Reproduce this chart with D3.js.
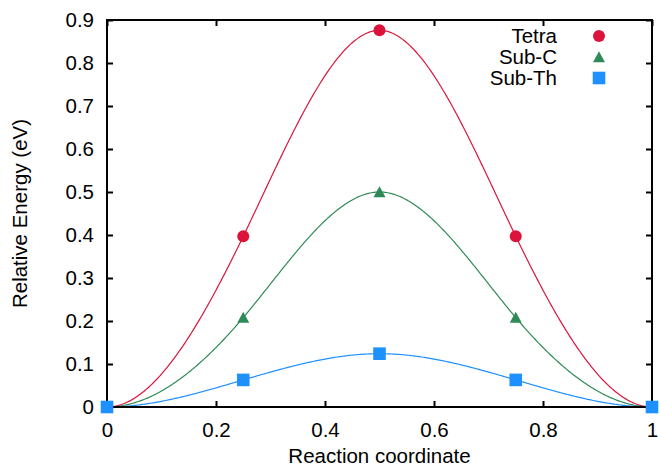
<!DOCTYPE html>
<html>
<head>
<meta charset="utf-8">
<script src="https://cdn.jsdelivr.net/npm/d3@7"></script>
<style>
  html, body { margin: 0; padding: 0; background: #fff; }
  svg { display: block; }
  text { font-family: "Liberation Sans", Arial, Helvetica, sans-serif; fill: #000; }
</style>
</head>
<body>
<svg id="chart" width="659" height="468"></svg>
<script>
// ---- data ----
const reactionCoord = [0, 0.25, 0.5, 0.75, 1];
const tetraEnergy = [0, 0.397, 0.876, 0.397, 0];
const subCEnergy = [0, 0.208, 0.500, 0.208, 0];
const subThEnergy = [0, 0.063, 0.124, 0.063, 0];
const seriesNames = ["Tetra", "Sub-C", "Sub-Th"];
const seriesColors = ["#dc143c", "#2e8b57", "#1e90ff"];
const seriesShapes = ["circle", "triangle", "square"];
const xTickValues = [0, 0.2, 0.4, 0.6, 0.8, 1];
const xTickLabels = ["0", "0.2", "0.4", "0.6", "0.8", "1"];
const yTickValues = [0, 0.1, 0.2, 0.3, 0.4, 0.5, 0.6, 0.7, 0.8, 0.9];
const yTickLabels = ["0", "0.1", "0.2", "0.3", "0.4", "0.5", "0.6", "0.7", "0.8", "0.9"];
const xTitle = "Reaction coordinate";
const yTitle = "Relative Energy (eV)";

const seriesValues = [tetraEnergy, subCEnergy, subThEnergy];

// ---- layout ----
const W = 659, H = 468;
const L = 107, R = 652, T = 20, B = 407;
const FONT = 20.5;

const svg = d3.select("#chart");
const x = d3.scaleLinear().domain([0, 1]).range([L, R]);
const y = d3.scaleLinear().domain([0, 0.9]).range([B, T]);

// clamped cubic spline (zero end slopes) through the data
function clampedSpline(xs, ys) {
  const n = xs.length;
  const h = [];
  for (let i = 0; i < n - 1; i++) h.push(xs[i + 1] - xs[i]);
  const m = new Array(n).fill(0);
  const k = n - 2;
  if (k > 0) {
    const a = [], b = [], c = [], d = [];
    for (let i = 1; i <= k; i++) {
      a.push(h[i]);
      b.push(2 * (h[i - 1] + h[i]));
      c.push(h[i - 1]);
      d.push(3 * (h[i] * (ys[i] - ys[i - 1]) / h[i - 1] + h[i - 1] * (ys[i + 1] - ys[i]) / h[i]));
    }
    for (let i = 1; i < k; i++) {
      const w = a[i] / b[i - 1];
      b[i] -= w * c[i - 1];
      d[i] -= w * d[i - 1];
    }
    const sol = new Array(k);
    sol[k - 1] = d[k - 1] / b[k - 1];
    for (let i = k - 2; i >= 0; i--) sol[i] = (d[i] - c[i] * sol[i + 1]) / b[i];
    for (let i = 1; i <= k; i++) m[i] = sol[i - 1];
  }
  return function (xv) {
    let i = 0;
    while (i < n - 2 && xv > xs[i + 1]) i++;
    const hh = h[i];
    const t = (xv - xs[i]) / hh;
    const t2 = t * t, t3 = t2 * t;
    return (2 * t3 - 3 * t2 + 1) * ys[i] + (t3 - 2 * t2 + t) * hh * m[i]
         + (-2 * t3 + 3 * t2) * ys[i + 1] + (t3 - t2) * hh * m[i + 1];
  };
}

// ---- curves ----
const line = d3.line().x(d => x(d[0])).y(d => y(d[1]));
const samples = d3.range(0, 401).map(i => i / 400);
seriesValues.forEach((vals, si) => {
  const f = clampedSpline(reactionCoord, vals);
  svg.append("path")
    .attr("d", line(samples.map(s => [s, f(s)])))
    .attr("fill", "none")
    .attr("stroke", seriesColors[si])
    .attr("stroke-width", 1.2);
});

// ---- axes / border ----
const tickLen = 6;
const axisG = svg.append("g");
const xAxisB = d3.axisBottom(x).tickValues(xTickValues).tickFormat((d, i) => xTickLabels[i]).tickSize(-tickLen).tickPadding(15);
const xAxisT = d3.axisTop(x).tickValues(xTickValues).tickFormat("").tickSize(-tickLen);
const yAxisL = d3.axisLeft(y).tickValues(yTickValues).tickFormat((d, i) => yTickLabels[i]).tickSize(-tickLen).tickPadding(13);
const yAxisR = d3.axisRight(y).tickValues(yTickValues).tickFormat("").tickSize(-tickLen);

function styleAxis(g) {
  g.select(".domain").remove();
  g.selectAll(".tick line").attr("stroke", "#000").attr("stroke-width", 2);
  g.selectAll(".tick text").attr("font-size", FONT).attr("fill", "#000")
    .attr("font-family", "Liberation Sans, Arial, sans-serif");
}
axisG.append("g").attr("transform", `translate(0,${B})`).call(xAxisB).call(styleAxis)
  .selectAll(".tick text").attr("dy", "0.71em");
axisG.append("g").attr("transform", `translate(0,${T})`).call(xAxisT).call(styleAxis);
axisG.append("g").attr("transform", `translate(${L},0)`).call(yAxisL).call(styleAxis);
axisG.append("g").attr("transform", `translate(${R},0)`).call(yAxisR).call(styleAxis);

svg.append("rect")
  .attr("x", L).attr("y", T).attr("width", R - L).attr("height", B - T)
  .attr("fill", "none").attr("stroke", "#000").attr("stroke-width", 2);

// ---- markers ----
const MS = 12;
function markerPath(shape) {
  if (shape === "circle") {
    const r = MS / 2;
    return `M${-r},0A${r},${r} 0 1,0 ${r},0A${r},${r} 0 1,0 ${-r},0Z`;
  }
  if (shape === "triangle") {
    const w = MS / 2, hgt = 10.5;
    return `M0,${-hgt / 2 - 0.5}L${w},${hgt / 2}L${-w},${hgt / 2}Z`;
  }
  const s = MS / 2 + 0.3;
  return `M${-s},${-s}H${s}V${s}H${-s}Z`;
}
seriesValues.forEach((vals, si) => {
  svg.append("g").selectAll("path")
    .data(reactionCoord.map((xv, i) => [xv, vals[i]]))
    .join("path")
    .attr("transform", d => `translate(${x(d[0])},${y(d[1])})`)
    .attr("d", markerPath(seriesShapes[si]))
    .attr("fill", seriesColors[si]);
});

// ---- legend ----
const legTextX = 557, legMarkX = 599, legY0 = 36, legDY = 21;
seriesNames.forEach((name, i) => {
  const cy = legY0 + i * legDY;
  svg.append("text")
    .attr("x", legTextX).attr("y", cy)
    .attr("dy", "0.36em")
    .attr("text-anchor", "end")
    .attr("font-size", FONT)
    .text(name);
  svg.append("path")
    .attr("transform", `translate(${legMarkX},${cy})`)
    .attr("d", markerPath(seriesShapes[i]))
    .attr("fill", seriesColors[i]);
});

// ---- titles ----
svg.append("text")
  .attr("x", (L + R) / 2).attr("y", 463)
  .attr("text-anchor", "middle")
  .attr("font-size", FONT)
  .text(xTitle);
svg.append("text")
  .attr("transform", `translate(27,${(T + B) / 2}) rotate(-90)`)
  .attr("text-anchor", "middle")
  .attr("font-size", FONT)
  .text(yTitle);
</script>
</body>
</html>
